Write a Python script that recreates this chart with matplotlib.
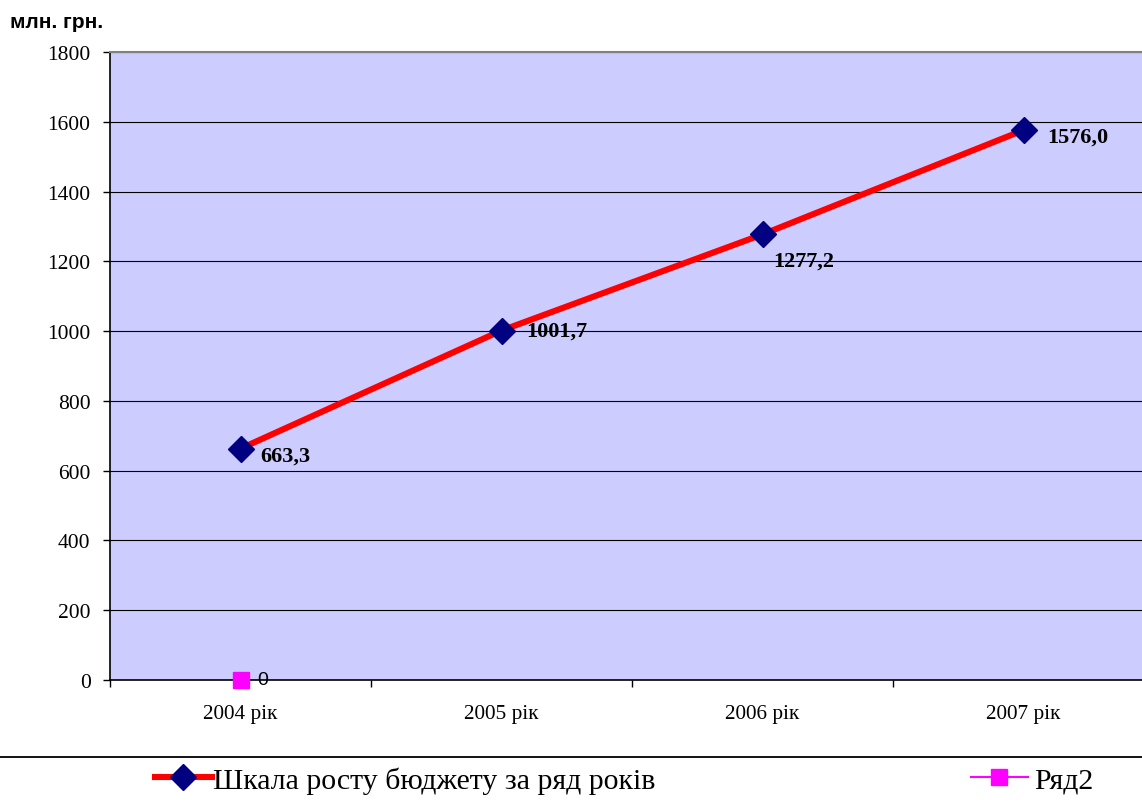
import matplotlib.pyplot as plt
from matplotlib.lines import Line2D

# дані
years = ['2004 рік', '2005 рік', '2006 рік', '2007 рік']
budget = [663.3, 1001.7, 1277.2, 1576.0]
budget_labels = ['663,3', '1001,7', '1277,2', '1576,0']
row2 = [0]
series_names = ['Шкала росту бюджету за ряд років', 'Ряд2']
y_ticks = [0, 200, 400, 600, 800, 1000, 1200, 1400, 1600, 1800]

# зміщення підписів (px)
label_offsets = [(20, -7), (25, 0), (11, -26), (24, -6)]

plt.rcParams['font.family'] = ['Liberation Serif', 'DejaVu Serif']

W, H = 1142, 804
fig = plt.figure(figsize=(W / 100, H / 100), dpi=100)
ax = fig.add_axes([110 / W, (H - 681) / H, 1044 / W, 628 / H])
ax.set_facecolor('#CCCCFF')

x = list(range(len(years)))
ax.plot(x, budget, color='red', lw=4.4, marker='D', ms=13,
        mfc='#000080', mec='#000080', zorder=3, solid_capstyle='butt')
ax.plot([0], row2, color='magenta', lw=1.5, marker='s', ms=11, ls='none',
        zorder=5, clip_on=False)

for xi, v, txt, off in zip(x, budget, budget_labels, label_offsets):
    ax.annotate(txt, (xi, v), xytext=(off[0] * 0.72, off[1] * 0.72),
                textcoords='offset points', ha='left', va='center',
                fontsize=16, fontweight='bold', zorder=4)
ax.annotate('0', (0, row2[0]), xytext=(17 * 0.72, 0), textcoords='offset points',
            ha='left', va='center', fontsize=14, family=['Liberation Sans'],
            annotation_clip=False, zorder=5)

ax.set_xlim(-0.5, 3.5)
ax.set_ylim(0, 1800)
ax.set_yticks(y_ticks)
ax.set_yticklabels([str(t) for t in y_ticks], fontsize=15.5)
ax.set_xticks(x)
ax.set_xticklabels(years, fontsize=15.3)
ax.set_xticks([-0.5, 0.5, 1.5, 2.5, 3.5], minor=True)
ax.tick_params(axis='x', which='major', length=0, pad=17)
ax.tick_params(axis='x', which='minor', length=5, width=1, direction='out')
ax.tick_params(axis='y', length=5, width=1, pad=9)
ax.yaxis.grid(True, color='black', lw=0.8)
ax.set_axisbelow(True)
ax.spines['right'].set_visible(False)
ax.spines['top'].set_color('#808080')
ax.spines['top'].set_linewidth(1.5)
for s in ['left', 'bottom']:
    ax.spines[s].set_linewidth(1.2)

fig.text(10 / W, 1 - 28 / H, 'млн. грн.', fontsize=15, fontweight='bold',
         family=['Liberation Sans'], ha='left', va='baseline')

# роздільник і легенда
fig.add_artist(Line2D([0, 1], [1 - 758 / H, 1 - 758 / H], color='black', lw=1.3,
                      transform=fig.transFigure))
h1 = Line2D([], [], color='red', lw=4.4, marker='D', ms=13, mfc='#000080', mec='#000080')
h2 = Line2D([], [], color='magenta', lw=1.5, marker='s', ms=11)
leg1 = fig.legend([h1], [series_names[0]], loc='center left',
                  bbox_to_anchor=(140 / W, 1 - 781 / H), frameon=False,
                  fontsize=21.5, handlelength=1.9, handletextpad=0.05, borderpad=0)
leg2 = fig.legend([h2], [series_names[1]], loc='center left',
                  bbox_to_anchor=(956 / W, 1 - 781 / H), frameon=False,
                  fontsize=21.5, handlelength=1.9, handletextpad=0.2, borderpad=0)

fig.savefig('out.png', dpi=100)
